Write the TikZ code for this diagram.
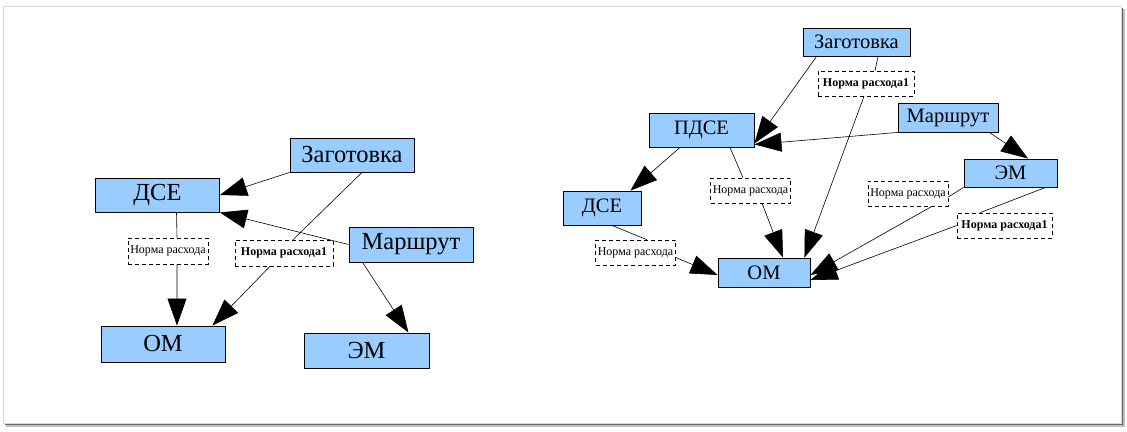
\documentclass[tikz,border=0pt]{standalone}
\usepackage{fontspec}
\setmainfont{Liberation Serif}
\usetikzlibrary{arrows.meta}
\definecolor{boxblue}{RGB}{153,204,255}

\begin{document}
\begin{tikzpicture}[x=1pt,y=-1pt,line width=0.6pt,>={Triangle[length=27pt,width=19pt]},
    ent/.style={draw,line width=0.9pt,fill=boxblue,inner sep=0pt},
    entA/.style={ent,minimum width=124pt,minimum height=34pt,font=\rmfamily\fontsize{24.5}{24.5}\selectfont},
    entB/.style={ent,minimum height=28pt,font=\rmfamily\fontsize{20.5}{20.5}\selectfont},
    rate/.style={draw,dash pattern=on 4pt off 3pt,fill=white,inner sep=0pt,minimum width=80pt,minimum height=25pt,font=\rmfamily\fontsize{12}{12}\selectfont},
    rateb/.style={rate,minimum width=96pt,font=\rmfamily\fontsize{12}{12}\selectfont\bfseries}]

    % Frame
    \useasboundingbox (0,0) rectangle (1127,431);
    \fill[black!25] (6,9) rectangle (1125,427);
    \fill[black!60] (5,8) rectangle (1123,425);
    \draw[black!15,fill=white] (3,6) rectangle (1121,423);

    % Left graph
    \node [entA] at (352,155) (zagA) {Заготовка};
    \node [entA] at (157.5,195) (dseA) {ДСЕ};
    \node [entA,minimum height=35pt] at (411,244.5) (marA) {Маршрут};
    \node [entA,minimum height=36pt] at (163,344) (omA) {ОМ};
    \node [entA,minimum width=125pt,minimum height=35pt] at (366.5,350.5) (emA) {ЭМ};
    \node [rate,minimum height=26pt] at (168,251) (nrA) {Норма расхода};
    \node [rateb,minimum width=98pt,minimum height=26pt] at (284,253) (nrA1) {Норма расхода1};

    % Right graph
    \node [entB,minimum width=107pt] at (856.5,42) (zagB) {Заготовка};
    \node [entB,minimum width=105pt,minimum height=34pt] at (701.5,130) (pdseB) {ПДСЕ};
    \node [entB,minimum width=100pt,minimum height=29pt] at (948,117.5) (marB) {Маршрут};
    \node [entB,minimum width=93pt] at (1010.5,173) (emB) {ЭМ};
    \node [entB,minimum width=78pt,minimum height=34pt] at (602,208) (dseB) {ДСЕ};
    \node [entB,minimum width=92pt,minimum height=29pt] at (764,272.5) (omB) {ОМ};
    \node [rateb] at (866,83.5) (nrB1) {Норма расхода1};
    \node [rate] at (750.5,190.5) (nrB2) {Норма расхода};
    \node [rate] at (635.5,252.5) (nrB3) {Норма расхода};
    \node [rate] at (908,193.5) (nrB4) {Норма расхода};
    \node [rateb,minimum width=95pt] at (1004.5,225.5) (nrB5) {Норма расхода1};

    % Left edges
    \draw[->] (zagA.south west) -- (dseA.east);
    \draw[->] (marA.west) -- (dseA.south east);
    \draw[->] ([xshift=19pt]dseA.south) -- ([xshift=9pt]nrA.north)
        ([xshift=9pt]nrA.south) -- ([xshift=14pt]omA.north);
    \draw[->] ([xshift=10pt]zagA.south) -- ([xshift=9pt]nrA1.north)
        ([xshift=-14pt]nrA1.south) -- ([xshift=-13pt]omA.north east);
    \draw[->] ([xshift=14pt]marA.south west) -- ([xshift=-21pt]emA.north east);

    % Right edges
    \draw[->] ([xshift=14pt]zagB.south west) -- ([yshift=4pt]pdseB.south east);
    \draw[->] (marB.south west) -- ([yshift=3pt]pdseB.south east);
    \draw[->] ([xshift=-9pt]marB.south east) -- ([xshift=17.5pt]emB.north);
    \draw[->] ([xshift=-21.5pt]pdseB.south) -- ([xshift=-11pt]dseB.north east);
    \draw[->] ([xshift=28.5pt]pdseB.south) -- ([xshift=-7.5pt]nrB2.north)
        ([xshift=11.5pt]nrB2.south) -- ([xshift=19pt]omB.north);
    \draw[->] ([xshift=10pt]dseB.south) -- ([xshift=11.5pt]nrB3.north)
        ([yshift=-5pt]nrB3.east) -- ([yshift=-2.5pt]omB.west);
    \draw[->] ([xshift=21.5pt]zagB.south) -- ([xshift=9pt]nrB1.north)
        ([xshift=-2pt]nrB1.south) -- ([xshift=-6pt]omB.north east);
    \draw[->] (emB.south west) -- ([yshift=-3.5pt]nrB4.east)
        ([xshift=24pt]nrB4.south) -- ([yshift=-2.5pt]omB.east);
    \draw[->] ([xshift=-12pt]emB.south east) -- ([xshift=-24.5pt]nrB5.north)
        (nrB5.west) -- ([yshift=-7.5pt]omB.east);

\end{tikzpicture}
\end{document}
